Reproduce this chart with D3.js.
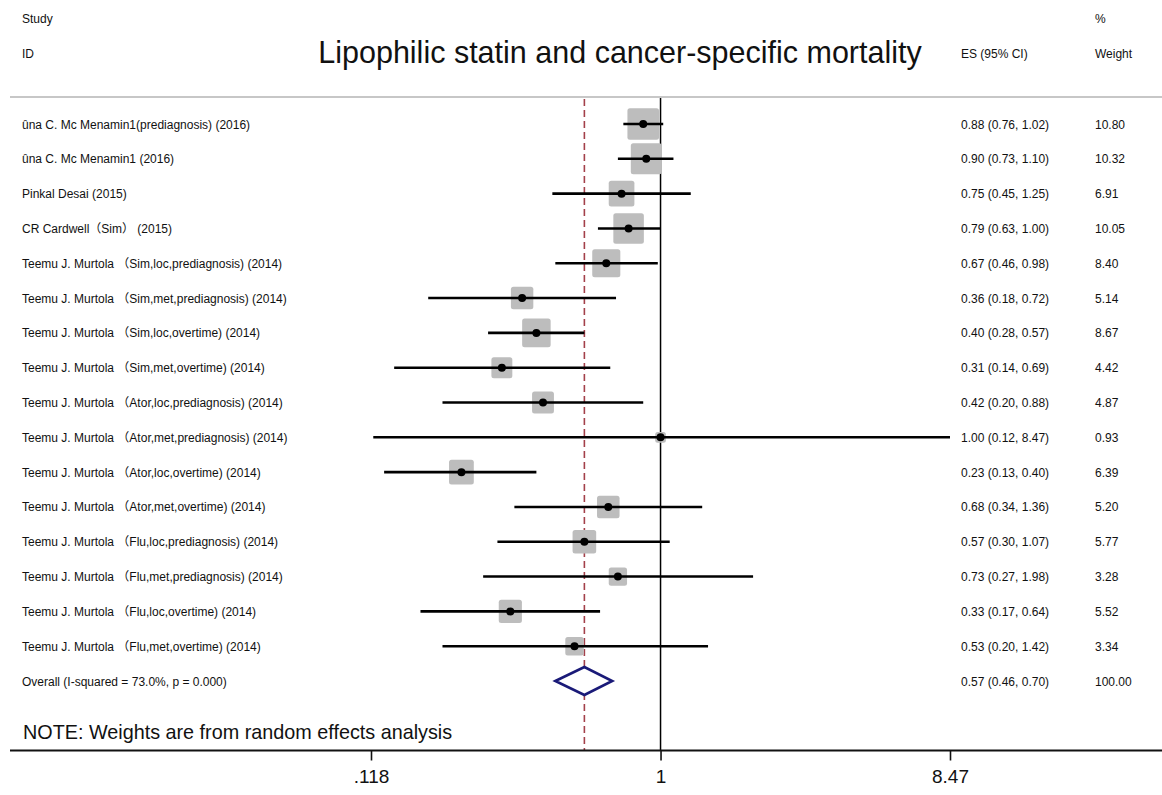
<!DOCTYPE html>
<html>
<head>
<meta charset="utf-8">
<script src="https://cdn.jsdelivr.net/npm/d3@7"></script>
<style>
  body { margin: 0; background: #fff; }
  svg { display: block; }
  text { font-family: "Liberation Sans", Arial, "Noto Sans CJK SC", sans-serif; fill: #111; }
</style>
</head>
<body>
<script>
// Study rows, top to bottom
const studies = [
  "ûna C. Mc Menamin1(prediagnosis) (2016)",
  "ûna C. Mc Menamin1 (2016)",
  "Pinkal Desai (2015)",
  "CR Cardwell（Sim） (2015)",
  "Teemu J. Murtola （Sim,loc,prediagnosis) (2014)",
  "Teemu J. Murtola （Sim,met,prediagnosis) (2014)",
  "Teemu J. Murtola （Sim,loc,overtime) (2014)",
  "Teemu J. Murtola （Sim,met,overtime) (2014)",
  "Teemu J. Murtola （Ator,loc,prediagnosis) (2014)",
  "Teemu J. Murtola （Ator,met,prediagnosis) (2014)",
  "Teemu J. Murtola （Ator,loc,overtime) (2014)",
  "Teemu J. Murtola （Ator,met,overtime) (2014)",
  "Teemu J. Murtola （Flu,loc,prediagnosis) (2014)",
  "Teemu J. Murtola （Flu,met,prediagnosis) (2014)",
  "Teemu J. Murtola （Flu,loc,overtime) (2014)",
  "Teemu J. Murtola （Flu,met,overtime) (2014)"
];
const es = [0.88, 0.90, 0.75, 0.79, 0.67, 0.36, 0.40, 0.31, 0.42, 1.00, 0.23, 0.68, 0.57, 0.73, 0.33, 0.53];
const lo = [0.76, 0.73, 0.45, 0.63, 0.46, 0.18, 0.28, 0.14, 0.20, 0.12, 0.13, 0.34, 0.30, 0.27, 0.17, 0.20];
const hi = [1.02, 1.10, 1.25, 1.00, 0.98, 0.72, 0.57, 0.69, 0.88, 8.47, 0.40, 1.36, 1.07, 1.98, 0.64, 1.42];
const weights = [10.80, 10.32, 6.91, 10.05, 8.40, 5.14, 8.67, 4.42, 4.87, 0.93, 6.39, 5.20, 5.77, 3.28, 5.52, 3.34];

const overall = {label: "Overall  (I-squared = 73.0%, p = 0.000)", es: 0.57, lo: 0.46, hi: 0.70, weight: 100.00};
const xTicks = [0.118, 1, 8.47];
const xTickLabels = [".118", "1", "8.47"];

const W = 1162, H = 795;
const svg = d3.select("body").append("svg").attr("width", W).attr("height", H);

const x = d3.scaleLog().domain([0.118, 8.47]).range([371, 950]);
const y = d3.scaleLinear().domain([0, studies.length]).range([124, 681]);
const side = (w) => 2 + 9 * Math.sqrt(w);
const fmt = d3.format(".2f");
const fs = 12;
const colEs = 961, colW = 1095;

// header
svg.append("text").attr("x", 22).attr("y", 23).attr("font-size", fs).text("Study");
svg.append("text").attr("x", 22).attr("y", 58).attr("font-size", fs).text("ID");
svg.append("text").attr("x", colEs).attr("y", 58).attr("font-size", fs).text("ES (95% CI)");
svg.append("text").attr("x", colW).attr("y", 23).attr("font-size", fs).text("%");
svg.append("text").attr("x", colW).attr("y", 58).attr("font-size", fs).text("Weight");
svg.append("text").attr("x", 620).attr("y", 63).attr("font-size", 30.5).attr("text-anchor", "middle")
  .text("Lipophilic statin and cancer-specific mortality");

svg.append("line").attr("x1", 10).attr("x2", W).attr("y1", 97).attr("y2", 97)
  .attr("stroke", "#b4b4b4").attr("stroke-width", 1.5);

// null line and overall line
svg.append("line").attr("x1", x(1)).attr("x2", x(1)).attr("y1", 98).attr("y2", 750)
  .attr("stroke", "#000").attr("stroke-width", 1.5);
svg.append("line").attr("x1", x(overall.es)).attr("x2", x(overall.es)).attr("y1", 99).attr("y2", 750)
  .attr("stroke", "#a3404a").attr("stroke-width", 1.6).attr("stroke-dasharray", "7,4");

const rows = studies.map((s, i) => ({s, es: es[i], lo: lo[i], hi: hi[i], w: weights[i], i}));

const g = svg.append("g");
g.selectAll("rect.box").data(rows).join("rect")
  .attr("class", "box")
  .attr("x", d => x(d.es) - side(d.w) / 2)
  .attr("y", d => y(d.i) - side(d.w) / 2)
  .attr("width", d => side(d.w))
  .attr("height", d => side(d.w))
  .attr("rx", 2.5)
  .attr("fill", "#bdbdbd");
g.selectAll("line.ci").data(rows).join("line")
  .attr("class", "ci")
  .attr("x1", d => x(d.lo)).attr("x2", d => x(d.hi))
  .attr("y1", d => y(d.i)).attr("y2", d => y(d.i))
  .attr("stroke", "#000").attr("stroke-width", 2.6);
g.selectAll("circle.pt").data(rows).join("circle")
  .attr("class", "pt")
  .attr("cx", d => x(d.es)).attr("cy", d => y(d.i))
  .attr("r", 4)
  .attr("fill", "#000");

// text columns
g.selectAll("text.lab").data(rows).join("text")
  .attr("class", "lab").attr("x", 22).attr("y", d => y(d.i) + 4.5)
  .attr("font-size", fs).text(d => d.s);
g.selectAll("text.esci").data(rows).join("text")
  .attr("class", "esci").attr("x", colEs).attr("y", d => y(d.i) + 4.5)
  .attr("font-size", fs).text(d => `${fmt(d.es)} (${fmt(d.lo)}, ${fmt(d.hi)})`);
g.selectAll("text.wt").data(rows).join("text")
  .attr("class", "wt").attr("x", colW).attr("y", d => y(d.i) + 4.5)
  .attr("font-size", fs).text(d => fmt(d.w));

// overall diamond
const yo = y(studies.length);
svg.append("path")
  .attr("d", `M${x(overall.lo)},${yo}L${x(overall.es)},${yo - 14}L${x(overall.hi)},${yo}L${x(overall.es)},${yo + 14}Z`)
  .attr("fill", "#fff").attr("stroke", "#1a1a78").attr("stroke-width", 2.6);
svg.append("text").attr("x", 22).attr("y", yo + 4.5).attr("font-size", fs).text(overall.label);
svg.append("text").attr("x", colEs).attr("y", yo + 4.5).attr("font-size", fs)
  .text(`${fmt(overall.es)} (${fmt(overall.lo)}, ${fmt(overall.hi)})`);
svg.append("text").attr("x", colW).attr("y", yo + 4.5).attr("font-size", fs).text(fmt(overall.weight));

svg.append("text").attr("x", 23).attr("y", 739).attr("font-size", 19.8)
  .text("NOTE: Weights are from random effects analysis");

// axis
svg.append("line").attr("x1", 10).attr("x2", W).attr("y1", 750.5).attr("y2", 750.5)
  .attr("stroke", "#111").attr("stroke-width", 2);
const axis = svg.append("g").attr("transform", "translate(0,750.5)")
  .call(d3.axisBottom(x).tickValues(xTicks).tickFormat((d, i) => xTickLabels[i]).tickSize(10).tickPadding(9));
axis.select("path.domain").remove();
axis.selectAll("line").attr("stroke", "#111").attr("stroke-width", 1.6);
axis.selectAll("text").attr("font-size", 19).attr("fill", "#111")
  .attr("font-family", "'Liberation Sans', Arial, sans-serif");
</script>
</body>
</html>
